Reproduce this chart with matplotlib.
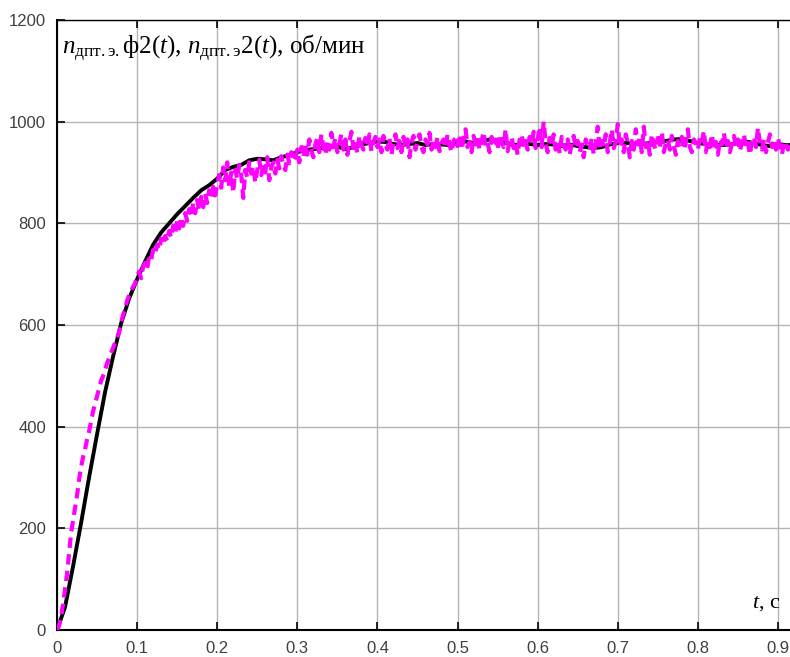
import numpy as np
import matplotlib
matplotlib.use("Agg")
import matplotlib.pyplot as plt

plt.rcParams['mathtext.fontset'] = 'custom'
plt.rcParams['mathtext.rm'] = 'Liberation Serif'
plt.rcParams['mathtext.it'] = 'Liberation Serif:italic'

# speed, model (black) - sampled every 0.01 s
t_model = [0.0, 0.01, 0.02, 0.03, 0.04, 0.05, 0.06, 0.07, 0.08, 0.09,
           0.10, 0.11, 0.12, 0.13, 0.14, 0.15, 0.16, 0.17, 0.18, 0.19,
           0.20, 0.21, 0.22, 0.23, 0.24, 0.25, 0.26, 0.27, 0.28, 0.29,
           0.30, 0.31, 0.32, 0.33, 0.34, 0.35, 0.36, 0.37, 0.38, 0.39,
           0.40, 0.41, 0.42, 0.43, 0.44, 0.45, 0.46, 0.47, 0.48, 0.49,
           0.50, 0.51, 0.52, 0.53, 0.54, 0.55, 0.56, 0.57, 0.58, 0.59,
           0.60, 0.61, 0.62, 0.63, 0.64, 0.65, 0.66, 0.67, 0.68, 0.69,
           0.70, 0.71, 0.72, 0.73, 0.74, 0.75, 0.76, 0.77, 0.78, 0.79,
           0.80, 0.81, 0.82, 0.83, 0.84, 0.85, 0.86, 0.87, 0.88, 0.89,
           0.90, 0.91, 0.915]
n_model = [0, 45, 125, 210, 300, 385, 468, 538, 603, 652,
           690, 725, 758, 782, 800, 818, 834, 850, 865, 875,
           888, 905, 911, 915, 924, 927, 926, 924, 930, 934,
           940, 944, 946, 948, 950, 951, 946, 950, 955, 958,
           961, 960, 956, 954, 956, 958, 954, 956, 955, 954,
           958, 961, 958, 961, 965, 963, 958, 954, 956, 956,
           954, 956, 955, 952, 955, 952, 950, 948, 950, 955,
           958, 958, 957, 956, 958, 960, 962, 965, 966, 962,
           958, 956, 955, 954, 955, 958, 961, 958, 954, 952,
           956, 954, 954]

# speed, measured (magenta) - sampled every 0.0025 s
t_meas = [i * 0.0025 for i in range(367)]
n_meas = [
    # 0 .. 0.1
    0, 8, 25, 50, 80, 110, 150, 190, 215, 240,
    265, 295, 320, 340, 355, 375, 390, 410, 430, 445,
    460, 475, 490, 500, 512, 525, 535, 545, 555, 565,
    575, 585, 605, 620, 632, 648, 658, 668, 675, 682,
    # 0.1 .. 0.2
    695, 705, 692, 715, 722, 710, 735, 728, 748, 740,
    758, 748, 770, 758, 775, 765, 785, 772, 795, 780,
    805, 790, 812, 795, 820, 805, 828, 812, 840, 820,
    846, 825, 852, 832, 858, 840, 865, 848, 872, 855,
    # 0.2 .. 0.3
    878, 895, 870, 910, 885, 920, 872, 900, 860, 905,
    888, 915, 895, 850, 905, 890, 920, 898, 912, 880,
    905, 925, 895, 915, 900, 930, 885, 910, 920, 898,
    925, 908, 932, 915, 905, 935, 918, 940, 922, 930,
    # 0.3 .. 0.4
    945, 920, 950, 930, 958, 935, 965, 945, 930, 955,
    968, 940, 975, 950, 935, 962, 945, 978, 950, 968,
    940, 958, 975, 945, 965, 935, 960, 980, 948, 962,
    938, 972, 955, 945, 968, 950, 975, 942, 960, 970,
    # 0.4 .. 0.5
    950, 965, 940, 972, 955, 945, 968, 935, 960, 975,
    948, 962, 940, 970, 952, 965, 930, 958, 972, 945,
    960, 975, 950, 940, 965, 955, 978, 945, 962, 950,
    970, 942, 958, 965, 948, 975, 955, 940, 962, 968,
    # 0.5 .. 0.6
    952, 975, 945, 965, 985, 950, 960, 940, 972, 955,
    968, 945, 962, 980, 950, 958, 940, 970, 955, 965,
    945, 975, 960, 950, 985, 942, 962, 970, 948, 958,
    935, 965, 975, 950, 962, 945, 970, 955, 980, 948,
    # 0.6 .. 0.7
    965, 990, 950, 1000, 958, 940, 968, 952, 975, 945,
    960, 938, 970, 955, 945, 965, 935, 958, 972, 948,
    962, 940, 955, 930, 965, 950, 945, 968, 935, 958,
    990, 945, 962, 950, 975, 940, 958, 985, 948, 960,
    # 0.7 .. 0.8
    995, 950, 965, 940, 975, 958, 930, 962, 945, 985,
    955, 968, 940, 990, 950, 962, 935, 975, 955, 945,
    968, 950, 980, 940, 958, 965, 945, 972, 952, 935,
    962, 955, 970, 945, 960, 985, 950, 940, 965, 955,
    # 0.8 .. 0.9
    945, 968, 958, 982, 940, 962, 950, 975, 945, 960,
    935, 965, 955, 978, 948, 962, 940, 958, 972, 950,
    965, 942, 960, 975, 948, 958, 935, 962, 970, 950,
    988, 955, 945, 965, 940, 960, 975, 950, 962, 945,
    # 0.9 .. 0.915
    968, 950, 935, 962, 955, 945, 960,
]

x_ticks = [0, 0.1, 0.2, 0.3, 0.4, 0.5, 0.6, 0.7, 0.8, 0.9]
x_labels = ['0', '0.1', '0.2', '0.3', '0.4', '0.5', '0.6', '0.7', '0.8', '0.9']
y_ticks = [0, 200, 400, 600, 800, 1000, 1200]

fig = plt.figure(figsize=(7.9, 6.57), dpi=100)
ax = fig.add_axes([57 / 790, 27 / 657, 1 - 57 / 790, 610 / 657])

ax.plot(t_model, n_model, color='black', lw=2.8, solid_capstyle='round', zorder=3)
ax.plot(t_meas, n_meas, color='#ff00ff', lw=3, dashes=[2.5, 1.5], zorder=4)

ax.set_xlim(0, 0.915)
ax.set_ylim(0, 1200)
ax.set_xticks(x_ticks)
ax.set_xticklabels(x_labels)
ax.set_yticks(y_ticks)
ax.grid(True, color='#b4b4b4', lw=1)
ax.set_axisbelow(True)

ax.tick_params(direction='in', length=6, width=1.2, top=True, right=False,
               colors='black', labelcolor='#404040', labelsize=12, pad=8)
for lab in ax.get_xticklabels() + ax.get_yticklabels():
    lab.set_family('Liberation Sans')
ax.spines['right'].set_visible(False)
ax.spines['left'].set_linewidth(1.5)
ax.spines['bottom'].set_linewidth(1.5)
ax.spines['top'].set_linewidth(1.0)

ax.text(0.006, 1145,
        r'$n_{\mathregular{дпт.э.}}\mathregular{ф2}(t)$, '
        r'$n_{\mathregular{дпт.э}}\mathregular{2}(t)$, об/мин',
        family='Liberation Serif', fontsize=18, va='center', ha='left')
ax.text(0.867, 52, r'$t$, с', family='Liberation Serif', fontsize=16,
        va='center', ha='left')

fig.savefig('out.png', dpi=100)
